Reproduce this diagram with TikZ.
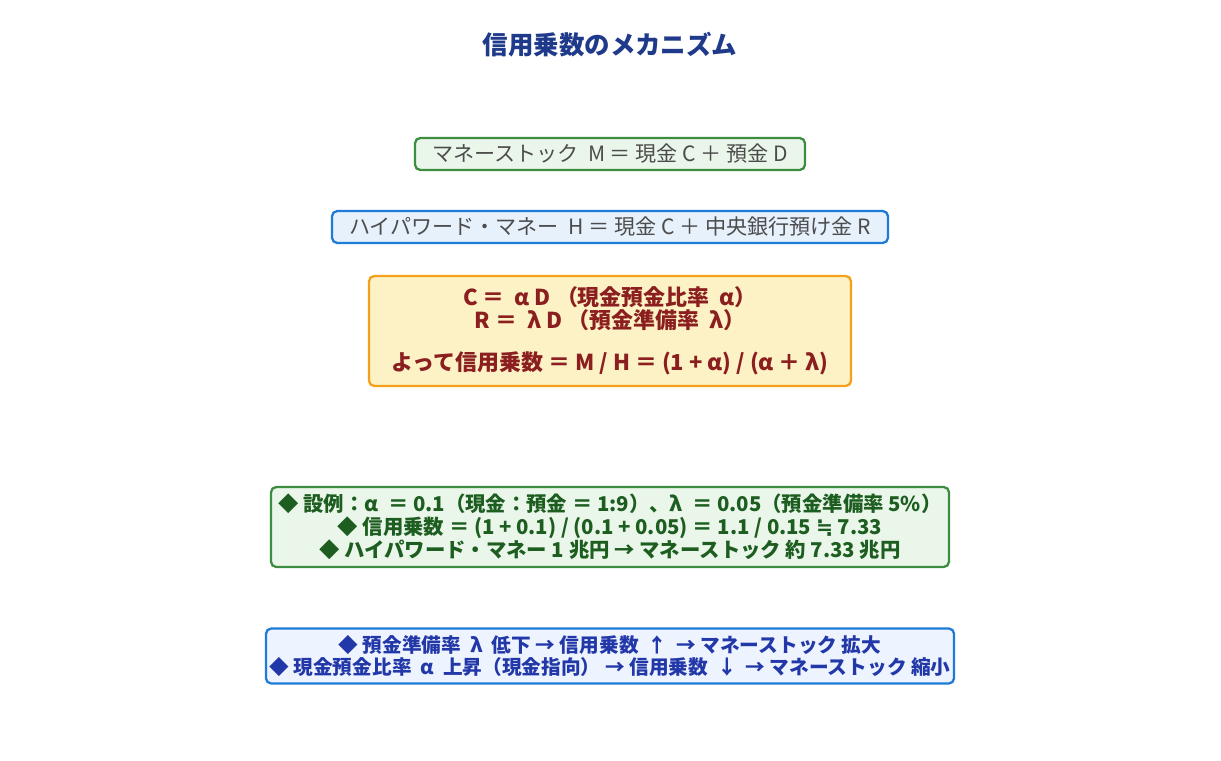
\documentclass[tikz,border=0pt]{standalone}
\usepackage{fontspec}
\setmainfont{Noto Sans CJK JP}
\newfontfamily\symfont{DejaVu Sans}
\usetikzlibrary{positioning}
\definecolor{titleblue}{HTML}{1F3A8A}
\definecolor{mgreen}{HTML}{3C8D40}
\definecolor{mgreenfill}{HTML}{EAF6EA}
\definecolor{hblue}{HTML}{1E7BD8}
\definecolor{hbluefill}{HTML}{E6F1FC}
\definecolor{eqorange}{HTML}{F5A01A}
\definecolor{eqfill}{HTML}{FDF2C6}
\definecolor{eqred}{HTML}{8B1E1E}
\definecolor{exgreen}{HTML}{1D5E20}
\definecolor{notefill}{HTML}{EEF4FF}
\definecolor{noteblue}{HTML}{2238A8}
\begin{document}
\begin{tikzpicture}[x=0.02cm,y=-0.02cm,
    box/.style={draw, rounded corners=3pt, line width=1.3pt, align=center, inner sep=2pt},
    every node/.style={font=\fontsize{12}{14}\selectfont}
  ]
  \useasboundingbox (0,0) rectangle (1221,761);

  \node[text=titleblue, font=\fontsize{14.5}{16}\selectfont\bfseries] (title) at (610,45) {信用乗数のメカニズム};

  \node[box, draw=mgreen, fill=mgreenfill, text=black!70, minimum width=390*0.02cm, minimum height=32*0.02cm] (money) at (610,154)
    {マネーストック\ \ M ＝ 現金 C ＋ 預金 D};

  \node[box, draw=hblue, fill=hbluefill, text=black!70, minimum width=556*0.02cm, minimum height=32*0.02cm] (base) at (610,227)
    {ハイパワード・マネー\ \ H ＝ 現金 C ＋ 中央銀行預け金 R};

  \node[box, draw=eqorange, fill=eqfill, text=eqred, font=\fontsize{12.5}{13}\selectfont\bfseries, minimum width=482*0.02cm, minimum height=110*0.02cm] (ratio) at (610,331)
    {C ＝ \ α D （現金預金比率 \ α）\\ R ＝ \ λ D （預金準備率 \ λ）\\[11pt] よって信用乗数 ＝ M / H ＝ (1 + α) / (α ＋ λ)};

  \node[box, draw=mgreen, fill=mgreenfill, text=exgreen, font=\fontsize{11.6}{13}\selectfont\bfseries, minimum width=678*0.02cm, minimum height=80*0.02cm] (example) at (610,527)
    {◆ 設例：α \ ＝ 0.1（現金：預金 ＝ 1:9）、λ \ ＝ 0.05（預金準備率 5\%）\\ ◆ 信用乗数 ＝ (1 + 0.1) / (0.1 + 0.05) ＝ 1.1 / 0.15 {\symfont ≒} 7.33\\ ◆ ハイパワード・マネー 1 兆円 → マネーストック 約 7.33 兆円};

  \node[box, draw=hblue, fill=notefill, text=noteblue, font=\fontsize{11.2}{12}\selectfont\bfseries, minimum width=686*0.02cm, minimum height=55*0.02cm] (effect) at (610,656)
    {◆ 預金準備率 \ λ \ 低下 → 信用乗数 \ ↑ \ → マネーストック 拡大\\ ◆ 現金預金比率 \ α \ 上昇（現金指向） → 信用乗数 \ ↓ \ → マネーストック 縮小};
\end{tikzpicture}
\end{document}
